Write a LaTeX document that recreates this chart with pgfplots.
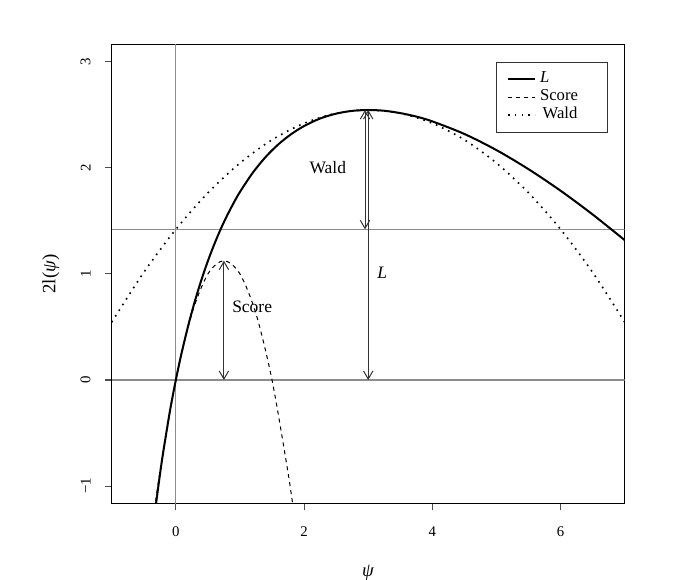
\documentclass[border=0pt]{standalone}
\usepackage{fontspec}
\setmainfont{Liberation Serif}
\usepackage{pgfplots}
\pgfplotsset{compat=1.18}
\usetikzlibrary{arrows.meta}
\begin{document}
\begin{tikzpicture}
\begin{axis}[
  at={(0,0)}, anchor=south west,
  scale only axis, width=381.7pt, height=341.5pt,
  xmin=-1, xmax=7, ymin=-1.163, ymax=3.164,
  xtick={0,2,4,6}, ytick={-1,0,1,2,3},
  xticklabels={0,2,4,6}, yticklabels={−1,0,1,2,3},
  tick align=outside, major tick length=5.2pt,
  axis line style={line width=0.75pt},
  every tick/.style={black!70, line width=0.75pt},
  tick pos=left,
  /pgf/number format/assume math mode=true,
  ticklabel style={font=\fontsize{11}{12}\selectfont},
  xticklabel style={yshift=-8.5pt},
  yticklabel style={rotate=90, anchor=south, yshift=7pt},
  xlabel={\textit{ψ}}, ylabel={2l(\textit{ψ})},
  every axis x label/.style={at={(rel axis cs:0.5,0)}, yshift=-51.9pt, anchor=center, font=\fontsize{14}{16}\selectfont},
  every axis y label/.style={at={(rel axis cs:0,0.5)}, xshift=-45.2pt, rotate=90, anchor=center, font=\fontsize{14}{16}\selectfont},
  legend style={at={(axis cs:5,3)}, anchor=north west, draw=black!80, line width=0.75pt,
    font=\fontsize{12.4}{13.3}\selectfont, inner xsep=7.5pt, inner ysep=6pt, row sep=0pt,
    column sep=3pt, nodes={inner sep=0pt, text height=9.2pt, text depth=4.1pt},
    cells={anchor=west}},
  legend cell align=left,
  legend image code/.code={\draw[#1] (0pt,0pt) -- (20pt,0pt);},
]
% reference lines
\addplot[black!45, line width=0.75pt, forget plot] coordinates {(-1,0) (7,0)};
\addplot[black!45, line width=0.75pt, forget plot] coordinates {(-1,1.420) (7,1.420)};
\addplot[black!45, line width=0.75pt, forget plot] coordinates {(0,-2) (0,4)};
% L
\addplot[black, line width=1.5pt, smooth] coordinates {
(-0.31,-1.174) (-0.30,-1.127) (-0.25,-0.901) (-0.2,-0.693) (-0.1,-0.321) (-0.05,-0.155)
(0,0) (0.05,0.145) (0.1,0.281) (0.2,0.529) (0.3,0.749) (0.4,0.946) (0.5,1.122) (0.6,1.280)
(0.7,1.423) (0.8,1.551) (0.9,1.667) (1.0,1.773) (1.2,1.954) (1.4,2.102) (1.6,2.222)
(1.8,2.318) (2.0,2.394) (2.25,2.465) (2.5,2.511) (2.75,2.537) (3.0,2.545) (3.25,2.538)
(3.5,2.516) (3.75,2.483) (4.0,2.438) (4.5,2.319) (5.0,2.167) (5.5,1.987) (6.0,1.784)
(6.5,1.560) (7.0,1.318)};
\addlegendentry{\textit{L}}
% Score
\addplot[black, line width=0.75pt, dash pattern=on 3pt off 3pt, smooth] coordinates {
(-0.35,-1.295) (-0.25,-0.875) (0,0) (0.25,0.625) (0.5,1.0) (0.75,1.125) (1.0,1.0)
(1.25,0.625) (1.5,0) (1.75,-0.875) (1.85,-1.295)};
\addlegendentry{\makebox[43pt][l]{Score}}
% Wald
\addplot[black, line width=1.2pt, dash pattern=on 1.2pt off 3.8pt, smooth] coordinates {
(-1,0.545) (-0.5,1.014) (0,1.420) (0.5,1.764) (1,2.045) (1.5,2.264) (2,2.420) (2.5,2.514)
(3,2.545) (3.5,2.514) (4,2.420) (4.5,2.264) (5,2.045) (5.5,1.764) (6,1.420) (6.5,1.014) (7,0.545)};
\addlegendentry{\hspace*{2pt}Wald}
% arrows
\addplot[black!80, line width=0.75pt, {Straight Barb[length=6pt,width=7pt]}-{Straight Barb[length=6pt,width=7pt]}, forget plot] coordinates {(0.75,0) (0.75,1.125)};
\addplot[black!80, line width=0.75pt, {Straight Barb[length=6pt,width=7pt]}-{Straight Barb[length=6pt,width=7pt]}, forget plot] coordinates {(3,0) (3,2.545)};
\addplot[black!80, line width=0.75pt, {Straight Barb[length=6pt,width=7pt]}-{Straight Barb[length=6pt,width=7pt]}, forget plot] coordinates {(2.95,1.420) (2.95,2.545)};
\node[font=\fontsize{13}{15}\selectfont] at (axis cs:1.19,0.69) {Score};
\node[font=\fontsize{13}{15}\selectfont] at (axis cs:3.22,1.01) {\textit{L}};
\node[font=\fontsize{13}{15}\selectfont] at (axis cs:2.37,2.0) {Wald};
\end{axis}
\pgfresetboundingbox
\path (-83.1pt,-56.3pt) rectangle (422.8pt,374.5pt);
\end{tikzpicture}
\end{document}
